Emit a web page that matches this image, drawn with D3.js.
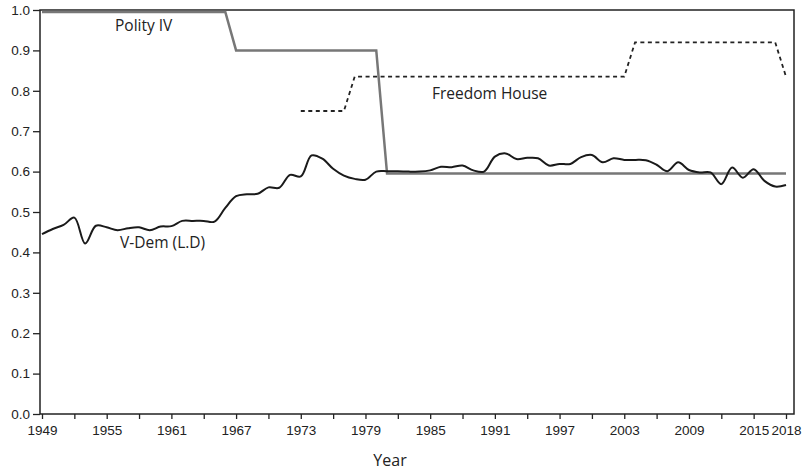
<!DOCTYPE html>
<html>
<head>
<meta charset="utf-8">
<script src="https://cdn.jsdelivr.net/npm/d3@7"></script>
<style>
  body { margin: 0; background: #fff; }
  svg { display: block; font-family: "Open Sans", "Noto Sans", sans-serif; }
  .tick text { font-size: 13.5px; fill: #222; }
</style>
</head>
<body>
<svg id="chart"></svg>
<script>
// years 1949..2018
const years = d3.range(1949, 2019);

// V-Dem liberal democracy index, one value per year
const vdem = [
  0.445, 0.458, 0.468, 0.486, 0.422, 0.466, 0.462, 0.455, 0.460, 0.462,
  0.455, 0.464, 0.465, 0.478, 0.478, 0.478, 0.476, 0.510, 0.539, 0.544,
  0.545, 0.561, 0.560, 0.592, 0.588, 0.640, 0.632, 0.607, 0.590, 0.582,
  0.580, 0.600, 0.601, 0.601, 0.600, 0.600, 0.603, 0.612, 0.611, 0.615,
  0.603, 0.600, 0.637, 0.645, 0.631, 0.634, 0.633, 0.615, 0.619, 0.619,
  0.636, 0.641, 0.623, 0.633, 0.629, 0.629, 0.628, 0.617, 0.601, 0.623,
  0.604, 0.598, 0.598, 0.569, 0.610, 0.585, 0.606, 0.577, 0.563, 0.567
];

// Polity IV (normalised)
const polity = years.map(y => y <= 1966 ? 0.995 : y <= 1980 ? 0.9 : 0.595);

// Freedom House (normalised), starts in 1973
const freedom = years.map(y =>
  y < 1973 ? null : y <= 1977 ? 0.75 : y <= 2003 ? 0.835 : y <= 2017 ? 0.92 : 0.835);

const xTicks = d3.range(1949, 2019, 3);
const yTicks = d3.range(0, 11).map(i => i / 10);

const width = 811, height = 471;
const plot = { left: 40, right: 794, top: 10, bottom: 414 };

const svg = d3.select('#chart')
  .attr('width', width)
  .attr('height', height);

const x = d3.scaleLinear().domain([1949, 2018]).range([42, 786]);
const y = d3.scaleLinear().domain([0, 1]).range([plot.bottom, plot.top]);

// frame
svg.append('rect')
  .attr('x', plot.left)
  .attr('y', plot.top)
  .attr('width', plot.right - plot.left)
  .attr('height', plot.bottom - plot.top)
  .attr('fill', 'none')
  .attr('stroke', '#222')
  .attr('stroke-width', 1.5);

// axes
const yAxis = svg.append('g')
  .attr('transform', `translate(${plot.left},0)`)
  .call(d3.axisLeft(y).tickValues(yTicks).tickFormat(d3.format('.1f')).tickSize(7).tickPadding(3));
yAxis.select('.domain').remove();

const xAxis = svg.append('g')
  .attr('transform', `translate(0,${plot.bottom})`)
  .call(d3.axisBottom(x).tickValues(xTicks)
    .tickFormat(d => ((d - 1949) % 6 === 0 || d === 2018) ? d : '')
    .tickSize(5).tickPadding(6));
xAxis.select('.domain').remove();
svg.selectAll('.tick line').attr('stroke', '#222').attr('stroke-width', 1.3);

svg.append('text')
  .attr('x', 390)
  .attr('y', 466)
  .attr('text-anchor', 'middle')
  .style('font-size', '16px')
  .attr('fill', '#222')
  .text('Year');

// lines
const line = series => d3.line()
  .defined((d, i) => series[i] != null)
  .x((d, i) => x(years[i]))
  .y((d, i) => y(series[i]));

svg.append('path')
  .datum(years)
  .attr('fill', 'none')
  .attr('stroke', '#777')
  .attr('stroke-width', 2.5)
  .attr('d', line(polity));

svg.append('path')
  .datum(years)
  .attr('fill', 'none')
  .attr('stroke', '#222')
  .attr('stroke-width', 1.8)
  .attr('stroke-dasharray', '4,3.5')
  .attr('d', line(freedom));

svg.append('path')
  .datum(years)
  .attr('fill', 'none')
  .attr('stroke', '#1a1a1a')
  .attr('stroke-width', 2)
  .attr('d', line(vdem).curve(d3.curveCatmullRom.alpha(0.5)));

// series labels
const labels = [
  { text: 'Polity IV', x: 115, y: 31 },
  { text: 'Freedom House', x: 432, y: 99 },
  { text: 'V-Dem (L.D)', x: 120, y: 248 }
];
svg.selectAll('.label')
  .data(labels)
  .enter()
  .append('text')
  .attr('class', 'label')
  .attr('x', d => d.x)
  .attr('y', d => d.y)
  .style('font-size', '15.5px')
  .attr('fill', '#222')
  .text(d => d.text);
</script>
</body>
</html>
